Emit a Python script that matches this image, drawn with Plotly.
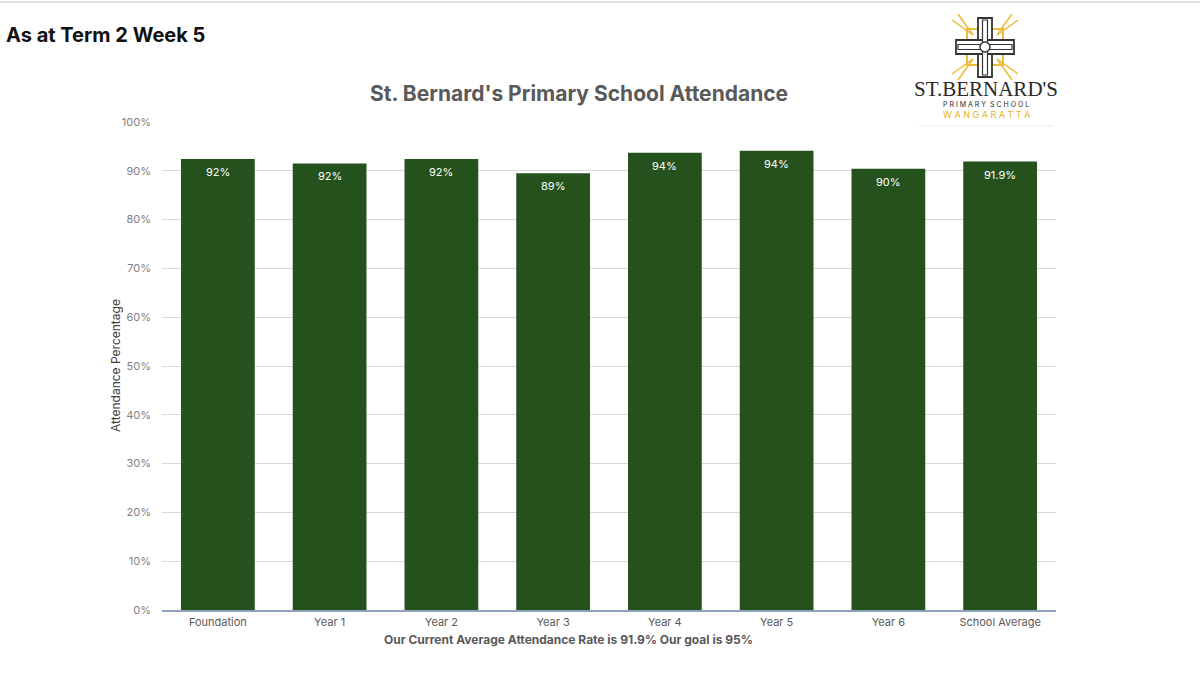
import plotly.graph_objects as go

categories = ["Foundation", "Year 1", "Year 2", "Year 3", "Year 4", "Year 5", "Year 6", "School Average"]
attendance = [0.924, 0.915, 0.924, 0.895, 0.937, 0.941, 0.904, 0.919]
bar_labels = ["92%", "92%", "92%", "89%", "94%", "94%", "90%", "91.9%"]
y_ticks = [0, 0.1, 0.2, 0.3, 0.4, 0.5, 0.6, 0.7, 0.8, 0.9, 1.0]
y_tick_labels = ["0%", "10%", "20%", "30%", "40%", "50%", "60%", "70%", "80%", "90%", "100%"]

W, H = 1200, 676
L, R, T, B = 162, 1056, 122, 610
FONT = "Inter, Roboto, Arial, sans-serif"
GRAY = "#595959"


def px(x):
    return (x - L) / (R - L)


def py(y):
    return (B - y) / (B - T)


fig = go.Figure()
fig.add_trace(go.Bar(
    x=categories, y=attendance,
    marker=dict(color="#25521C", line=dict(width=0)),
    hoverinfo="x+y",
))

annotations = []
for c, v, t in zip(categories, attendance, bar_labels):
    annotations.append(dict(x=c, y=v, xref="x", yref="y", text=t, showarrow=False,
                            yanchor="middle", yshift=-13,
                            font=dict(family=FONT, size=11, color="white")))

annotations += [
    dict(text="<b>As at Term 2 Week 5</b>", xref="paper", yref="paper", x=px(4), y=py(35),
         xanchor="left", yanchor="middle", showarrow=False,
         font=dict(family=FONT, size=20, color="#111111")),
    dict(text="<b>St. Bernard's Primary School Attendance</b>", xref="paper", yref="paper",
         x=px(579), y=py(93), xanchor="center", yanchor="middle", showarrow=False,
         font=dict(family=FONT, size=21, color=GRAY)),
    dict(text="<b>Our Current Average Attendance Rate is 91.9% Our goal is 95%</b>", xref="paper",
         yref="paper", x=px(568), y=py(639), xanchor="center", yanchor="middle", showarrow=False,
         font=dict(family=FONT, size=12, color=GRAY)),
    dict(text="Attendance Percentage", xref="paper", yref="paper", x=px(115), y=py(366),
         xanchor="center", yanchor="middle", textangle=-90, showarrow=False,
         font=dict(family=FONT, size=12, color="#404040")),
    # logo text
    dict(text="ST.BERNARD'S", xref="paper", yref="paper", x=px(986), y=py(89),
         xanchor="center", yanchor="middle", showarrow=False,
         font=dict(family="Liberation Serif, DejaVu Serif, serif", size=21, color="#2a2a2a")),
    dict(text="P R I M A R Y  S C H O O L", xref="paper", yref="paper", x=px(986), y=py(104),
         xanchor="center", yanchor="middle", showarrow=False,
         font=dict(family=FONT, size=7, color="#2a2a2a")),
    dict(text="W A N G A R A T T A", xref="paper", yref="paper", x=px(986), y=py(115),
         xanchor="center", yanchor="middle", showarrow=False,
         font=dict(family=FONT, size=9, color="#E6B428")),
]

shapes = []
shapes.append(dict(type="line", xref="paper", yref="paper", x0=px(0), x1=px(1200), y0=py(2), y1=py(2),
                   line=dict(color="#e0e0e0", width=2)))
shapes.append(dict(type="line", xref="paper", yref="paper", x0=px(918), x1=px(1053), y0=py(126), y1=py(126),
                   line=dict(color="#eeeeee", width=1)))
cx, cy = 985, 47
GOLD = "#EDBB35"
for dx, dy in [(-1, -1), (1, -1), (-1, 1), (1, 1)]:
    for off in (-5, 5):
        shapes.append(dict(type="line", xref="paper", yref="paper",
                           x0=px(cx + dx * 12), y0=py(cy + dy * 12),
                           x1=px(cx + dx * 30 + off * 0.6), y1=py(cy + dy * 30 - off * 0.6 * (dx * dy)),
                           line=dict(color=GOLD, width=1.5)))
shapes.append(dict(type="rect", xref="paper", yref="paper", x0=px(967), x1=px(1003), y0=py(29), y1=py(65),
                   line=dict(color=GOLD, width=2), fillcolor="rgba(0,0,0,0)", layer="above"))
DARK = "#333333"
shapes.append(dict(type="rect", xref="paper", yref="paper", x0=px(cx - 7), x1=px(cx + 7), y0=py(18), y1=py(77),
                   line=dict(color=DARK, width=1.8), fillcolor="white", layer="above"))
shapes.append(dict(type="rect", xref="paper", yref="paper", x0=px(956), x1=px(1014), y0=py(cy - 7), y1=py(cy + 7),
                   line=dict(color=DARK, width=1.8), fillcolor="white", layer="above"))
shapes.append(dict(type="rect", xref="paper", yref="paper", x0=px(cx - 2.5), x1=px(cx + 2.5), y0=py(20), y1=py(75),
                   line=dict(color=DARK, width=1.2), fillcolor="white", layer="above"))
shapes.append(dict(type="rect", xref="paper", yref="paper", x0=px(958), x1=px(1012), y0=py(cy - 2.5), y1=py(cy + 2.5),
                   line=dict(color=DARK, width=1.2), fillcolor="white", layer="above"))
shapes.append(dict(type="rect", xref="paper", yref="paper", x0=px(cx - 2), x1=px(cx + 2), y0=py(cy - 2), y1=py(cy + 2),
                   line=dict(width=0), fillcolor="white", layer="above"))
shapes.append(dict(type="circle", xref="paper", yref="paper", x0=px(cx - 5), x1=px(cx + 5), y0=py(cy - 5), y1=py(cy + 5),
                   line=dict(color=DARK, width=1.5), fillcolor="white", layer="above"))

fig.update_layout(
    width=W, height=H,
    margin=dict(l=L, r=W - R, t=T, b=H - B, pad=0),
    paper_bgcolor="white", plot_bgcolor="white",
    showlegend=False,
    bargap=0.34,
    annotations=annotations,
    shapes=shapes,
    font=dict(family=FONT),
    xaxis=dict(
        showgrid=False, showline=True, linecolor="#8EA2BB", linewidth=1.5,
        ticks="", ticklabelstandoff=1, tickfont=dict(family=FONT, size=11, color=GRAY),
        fixedrange=True,
    ),
    yaxis=dict(
        range=[0, 1], tickvals=y_ticks, ticktext=y_tick_labels,
        showgrid=True, gridcolor="#D9D9D9", gridwidth=1, zeroline=False, showline=False,
        ticks="", ticklabelstandoff=10,
        tickfont=dict(family=FONT, size=11, color="#7F7F7F"),
        fixedrange=True,
    ),
)

fig.write_html("out.html")
